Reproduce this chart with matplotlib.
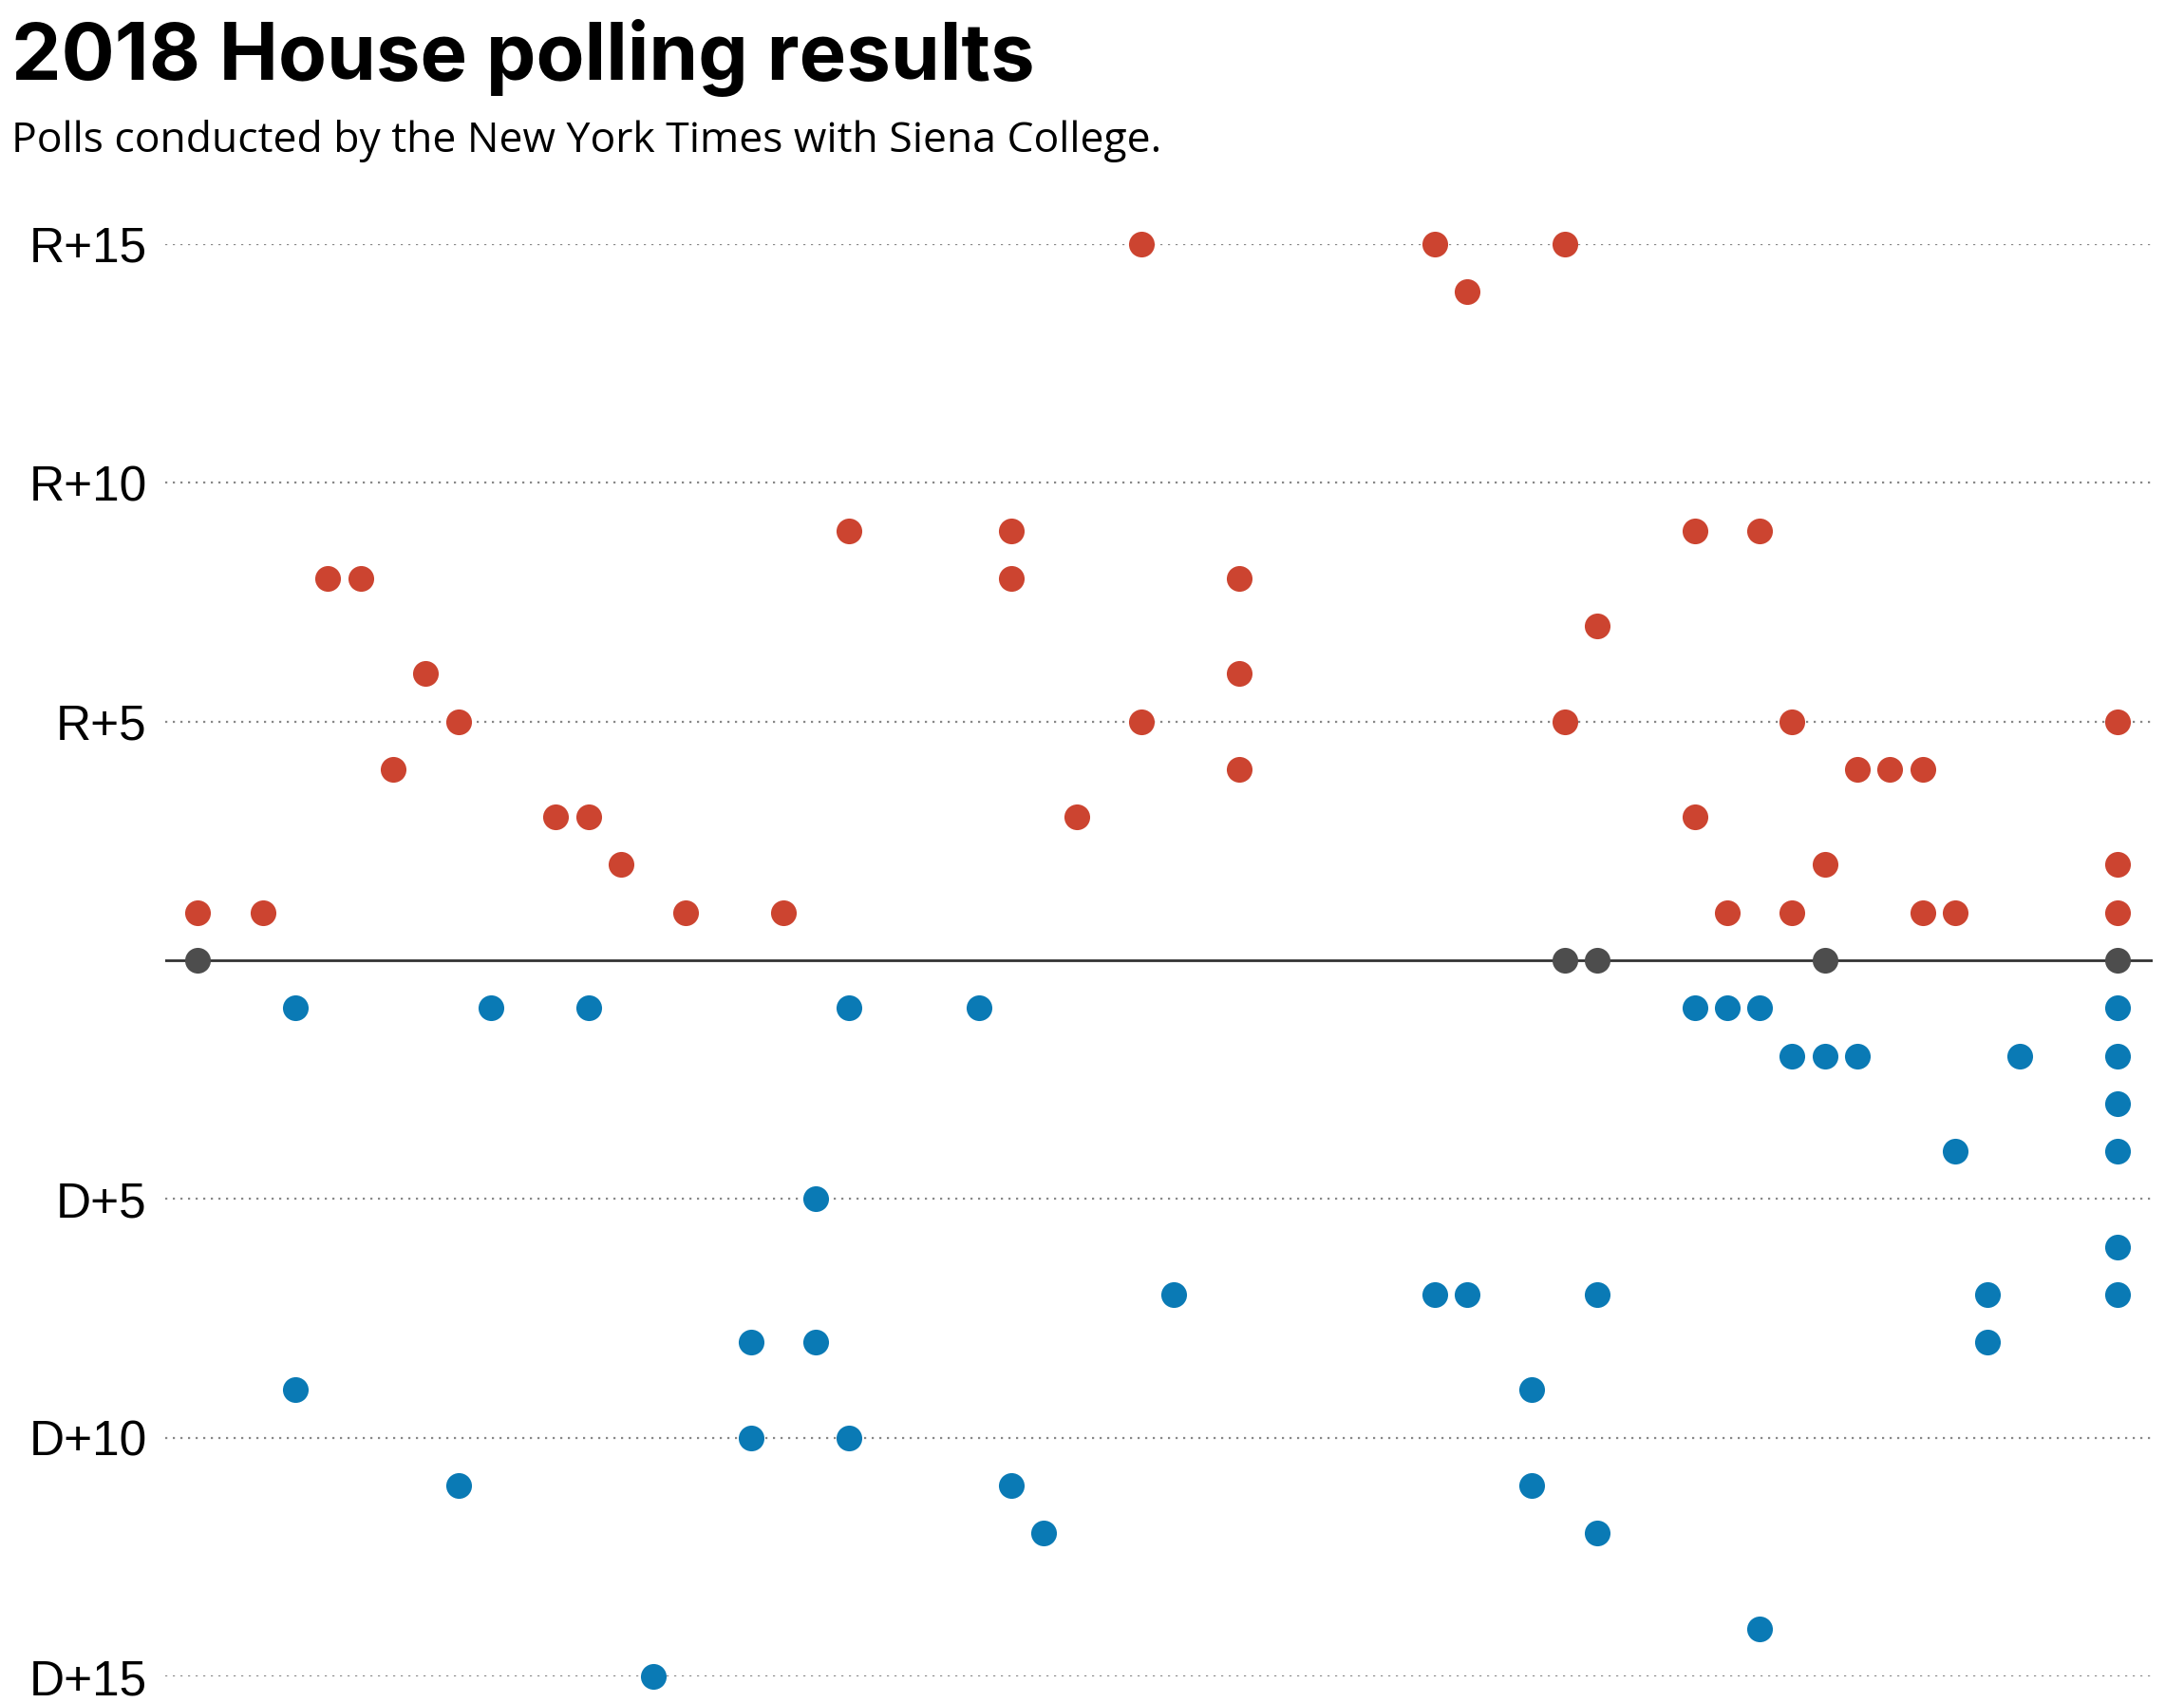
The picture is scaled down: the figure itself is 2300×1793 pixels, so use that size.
import matplotlib.pyplot as plt

# poll index (order of release) and margin in points, R positive / D negative
rep_x = [0, 2, 4, 5, 6, 7, 8, 11, 12, 13, 15, 18, 20, 25, 25, 27, 29, 29,
         32, 32, 32, 38, 39, 42, 42, 43, 46, 46, 47, 48, 49, 49, 50, 51, 52,
         53, 53, 54, 59, 59, 59]
rep_y = [1, 1, 8, 8, 4, 6, 5, 3, 3, 2, 1, 1, 9, 9, 8, 3, 15, 5,
         8, 6, 4, 15, 14, 15, 5, 7, 9, 3, 1, 9, 5, 1, 2, 4, 4,
         4, 1, 1, 5, 2, 1]

dem_x = [3, 9, 12, 20, 24, 46, 47, 48, 59, 49, 50, 51, 56, 59, 59, 54, 59,
         19, 59, 30, 38, 39, 43, 55, 59, 17, 19, 55, 3, 41, 17, 20, 8, 25,
         41, 26, 43, 48, 14]
dem_y = [1, 1, 1, 1, 1, 1, 1, 1, 1, 2, 2, 2, 2, 2, 3, 4, 4,
         5, 6, 7, 7, 7, 7, 7, 7, 8, 8, 8, 9, 9, 10, 10, 11, 11,
         11, 12, 12, 14, 15]

tie_x = [0, 42, 43, 50, 59]

ticks = [15, 10, 5, -5, -10, -15]
tick_labels = ['R+15', 'R+10', 'R+5', 'D+5', 'D+10', 'D+15']

plt.rcParams['font.family'] = ['Liberation Sans', 'DejaVu Sans']

fig = plt.figure(figsize=(23, 17.93), dpi=100)
ax = fig.add_axes([0.0757, 0.0156, 0.910, 0.8411])

for t in ticks:
    ax.axhline(t, color='#888888', lw=1.6, ls=(0, (1, 2.6)), zorder=1)
ax.axhline(0, color='#333333', lw=2, zorder=1)

ms = 380
ax.scatter(rep_x, rep_y, s=ms, color='#cc4430', lw=0, zorder=3, clip_on=False)
ax.scatter(dem_x, [-v for v in dem_y], s=ms, color='#0a7ab5', lw=0, zorder=3, clip_on=False)
ax.scatter(tie_x, [0] * len(tie_x), s=ms, color='#4d4d4d', lw=0, zorder=3, clip_on=False)

ax.set_xlim(-1.0, 60.08)
ax.set_ylim(-15, 15)
ax.set_yticks(ticks)
ax.set_yticklabels(tick_labels, fontsize=37)
ax.tick_params(axis='y', length=0, pad=14)
ax.set_xticks([])
for s in ax.spines.values():
    s.set_visible(False)

fig.text(0.0052, 0.953, '2018 House polling results', fontsize=60,
         fontweight='bold', va='baseline', ha='left', family=['Inter', 'Liberation Sans'])
fig.text(0.0052, 0.911, 'Polls conducted by the New York Times with Siena College.',
         fontsize=32, va='baseline', ha='left', family='Open Sans')

fig.savefig('out.png', dpi=100)
